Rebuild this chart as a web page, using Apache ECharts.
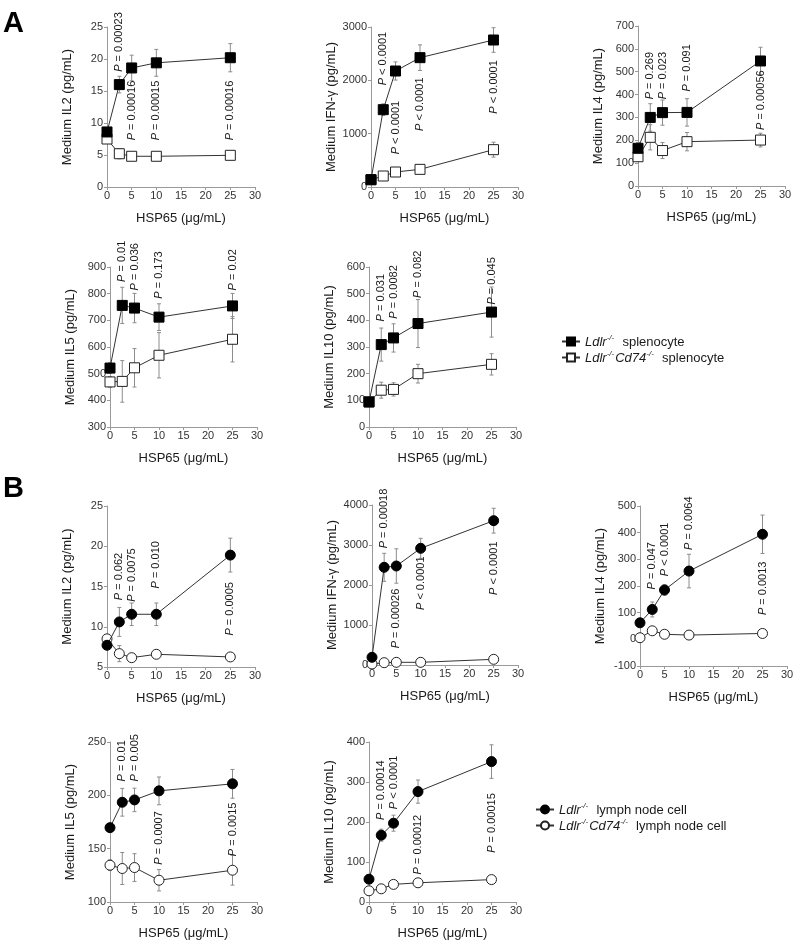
<!DOCTYPE html>
<html><head><meta charset="utf-8">
<script src="https://cdn.jsdelivr.net/npm/echarts@6/dist/echarts.min.js"></script>
<style>html,body{margin:0;padding:0;background:#fff}#c{width:800px;height:946px}</style>
</head><body><div id="c"></div>
<script>
// ---------- DATA ----------
const doses = [0, 2.5, 5, 10, 25];
const pDoses = [2.5, 5, 10, 25];

// Panel A: splenocytes
const aIL2Ldlr = [8.6, 16.0, 18.6, 19.4, 20.2];
const aIL2LdlrErr = [0.6, 1.3, 2.0, 2.1, 2.2];
const aIL2Cd74 = [7.5, 5.2, 4.8, 4.8, 4.95];
const aIL2Cd74Err = [0.5, 0.8, 0.4, 0.3, 0.3];
const aIL2P = ['= 0.00023', '= 0.00016', '= 0.00015', '= 0.00016'];
const aIL2PAt = [18.0, 7.3, 7.3, 7.3];

const aIFNLdlr = [137, 1450, 2175, 2425, 2756];
const aIFNLdlrErr = [40, 110, 170, 240, 230];
const aIFNCd74 = [137, 206, 281, 331, 700];
const aIFNCd74Err = [30, 40, 40, 50, 140];
const aIFNP = ['< 0.0001', '< 0.0001', '< 0.0001', '< 0.0001'];
const aIFNPAt = [1906, 612, 1050, 1375];

const aIL4Ldlr = [165, 300, 321, 322, 547];
const aIL4LdlrErr = [25, 60, 55, 60, 60];
const aIL4Cd74 = [128, 213, 155, 194, 201];
const aIL4Cd74Err = [20, 55, 35, 40, 30];
const aIL4P = ['= 0.269', '= 0.023', '= 0.091', '= 0.00056'];
const aIL4PAt = [379, 379, 413, 245];

const aIL5Ldlr = [521, 756, 746, 712, 754];
const aIL5LdlrErr = [20, 68, 55, 50, 47];
const aIL5Cd74 = [469, 471, 522, 569, 629];
const aIL5Cd74Err = [20, 78, 72, 85, 85];
const aIL5P = ['= 0.01', '= 0.036', '= 0.173', '= 0.02'];
const aIL5PAt = [844, 812, 781, 812];

const aIL10Ldlr = [94, 309, 334, 388, 431];
const aIL10LdlrErr = [10, 62, 53, 90, 94];
const aIL10Cd74 = [94, 138, 141, 200, 235];
const aIL10Cd74Err = [10, 30, 25, 35, 40];
const aIL10P = ['= 0.031', '= 0.0082', '= 0.082', '= 0.045'];
const aIL10PAt = [396, 406, 484, 459];

// Panel B: lymph node cells
const bIL2Ldlr = [7.7, 10.6, 11.55, 11.55, 18.9];
const bIL2LdlrErr = [0.4, 1.8, 1.4, 1.4, 2.1];
const bIL2Cd74 = [8.5, 6.66, 6.16, 6.58, 6.25];
const bIL2Cd74Err = [0.3, 1.0, 0.3, 0.3, 0.3];
const bIL2P = ['= 0.062', '= 0.0075', '= 0.010', '= 0.0005'];
const bIL2PAt = [13.3, 13.1, 14.75, 8.9];

const bIFNLdlr = [192, 2442, 2475, 2917, 3608];
const bIFNLdlrErr = [40, 350, 430, 250, 310];
const bIFNCd74 = [25, 58, 67, 67, 142];
const bIFNCd74Err = [10, 20, 20, 20, 30];
const bIFNP = ['= 0.00018', '= 0.00026', '< 0.0001', '< 0.0001'];
const bIFNPAt = [2917, 417, 1375, 1750];

const bIL4Ldlr = [62, 112, 185, 256, 394];
const bIL4LdlrErr = [10, 28, 20, 63, 72];
const bIL4Cd74 = [6, 32, 19, 16, 22];
const bIL4Cd74Err = [5, 8, 5, 5, 5];
const bIL4P = ['= 0.047', '< 0.0001', '= 0.0064', '= 0.0013'];
const bIL4PAt = [187, 237, 335, 91];

const bIL5Ldlr = [169.7, 193.5, 195.7, 204.2, 210.8];
const bIL5LdlrErr = [3, 13, 11, 13, 13.5];
const bIL5Cd74 = [134.5, 131.4, 132.3, 120.4, 129.8];
const bIL5Cd74Err = [5, 15, 13, 10, 14];
const bIL5P = ['= 0.01', '= 0.005', '= 0.0007', '= 0.0015'];
const bIL5PAt = [213, 213, 135, 143];

const bIL10Ldlr = [57, 167, 197, 276, 351];
const bIL10LdlrErr = [8, 15, 20, 29, 42];
const bIL10Cd74 = [28, 33, 44, 48, 56];
const bIL10Cd74Err = [5, 5, 5, 5, 5];
const bIL10P = ['= 0.00014', '< 0.0001', '= 0.00012', '= 0.00015'];
const bIL10PAt = [205, 232, 69, 123];

const yTitles = ['Medium IL2 (pg/mL)', 'Medium IFN-γ (pg/mL)', 'Medium IL4 (pg/mL)', 'Medium IL5 (pg/mL)', 'Medium IL10 (pg/mL)'];
const xTitle = 'HSP65 (μg/mL)';
const seriesNames = {
  A: ['Ldlr-/- splenocyte', 'Ldlr-/-Cd74-/- splenocyte'],
  B: ['Ldlr-/- lymph node cell', 'Ldlr-/-Cd74-/- lymph node cell']
};

// ---------- LAYOUT ----------
const FONT = '"Liberation Sans", Arial, sans-serif';
const panels = [
  {g:[107,27,148,160], yr:[0,25,5], t:0, set:'A', sym:'rect', f:aIL2Ldlr, fe:aIL2LdlrErr, o:aIL2Cd74, oe:aIL2Cd74Err, p:aIL2P, pa:aIL2PAt},
  {g:[371,27,147,160], yr:[0,3000,1000], t:1, set:'A', sym:'rect', f:aIFNLdlr, fe:aIFNLdlrErr, o:aIFNCd74, oe:aIFNCd74Err, p:aIFNP, pa:aIFNPAt},
  {g:[638,26,147,160], yr:[0,700,100], t:2, set:'A', sym:'rect', f:aIL4Ldlr, fe:aIL4LdlrErr, o:aIL4Cd74, oe:aIL4Cd74Err, p:aIL4P, pa:aIL4PAt},
  {g:[110,267,147,160], yr:[300,900,100], t:3, set:'A', sym:'rect', f:aIL5Ldlr, fe:aIL5LdlrErr, o:aIL5Cd74, oe:aIL5Cd74Err, p:aIL5P, pa:aIL5PAt},
  {g:[369,267,147,160], yr:[0,600,100], t:4, set:'A', sym:'rect', f:aIL10Ldlr, fe:aIL10LdlrErr, o:aIL10Cd74, oe:aIL10Cd74Err, p:aIL10P, pa:aIL10PAt},
  {g:[107,506,148,161], yr:[5,25,5], t:0, set:'B', sym:'circle', f:bIL2Ldlr, fe:bIL2LdlrErr, o:bIL2Cd74, oe:bIL2Cd74Err, p:bIL2P, pa:bIL2PAt},
  {g:[372,505,146,160], yr:[0,4000,1000], t:1, set:'B', sym:'circle', f:bIFNLdlr, fe:bIFNLdlrErr, o:bIFNCd74, oe:bIFNCd74Err, p:bIFNP, pa:bIFNPAt},
  {g:[640,506,147,160], yr:[-100,500,100], t:2, set:'B', sym:'circle', f:bIL4Ldlr, fe:bIL4LdlrErr, o:bIL4Cd74, oe:bIL4Cd74Err, p:bIL4P, pa:bIL4PAt},
  {g:[110,742,147,160], yr:[100,250,50], t:3, set:'B', sym:'circle', f:bIL5Ldlr, fe:bIL5LdlrErr, o:bIL5Cd74, oe:bIL5Cd74Err, p:bIL5P, pa:bIL5PAt},
  {g:[369,742,147,160], yr:[0,400,100], t:4, set:'B', sym:'circle', f:bIL10Ldlr, fe:bIL10LdlrErr, o:bIL10Cd74, oe:bIL10Cd74Err, p:bIL10P, pa:bIL10PAt}
];

const axisColor = '#9a9a9a';
const textColor = '#1a1a1a';
const grids = [], xAxes = [], yAxes = [], series = [];

function errSeries(i, vals, errs) {
  return {
    type: 'custom', xAxisIndex: i, yAxisIndex: i, z: 1, silent: true,
    data: doses.map((d, k) => [d, vals[k] - errs[k], vals[k] + errs[k]]),
    renderItem(params, api) {
      const lo = api.coord([api.value(0), api.value(1)]);
      const hi = api.coord([api.value(0), api.value(2)]);
      const w = 2;
      const st = {stroke: '#8c8c8c', lineWidth: 1};
      return {type: 'group', children: [
        {type: 'line', shape: {x1: lo[0], y1: lo[1], x2: hi[0], y2: hi[1]}, style: st},
        {type: 'line', shape: {x1: lo[0]-w, y1: lo[1], x2: lo[0]+w, y2: lo[1]}, style: st},
        {type: 'line', shape: {x1: hi[0]-w, y1: hi[1], x2: hi[0]+w, y2: hi[1]}, style: st}
      ]};
    }
  };
}

function pSeries(i, texts, anchors) {
  return {
    type: 'custom', xAxisIndex: i, yAxisIndex: i, z: 5, silent: true,
    data: pDoses.map((d, k) => [d, anchors[k], texts[k]]),
    renderItem(params, api) {
      const c = api.coord([api.value(0), api.value(1)]);
      const txt = texts[params.dataIndex];
      return {
        type: 'text', x: c[0], y: c[1], rotation: Math.PI / 2,
        style: {
          text: '{i|P} ' + txt,
          fontFamily: FONT, fontSize: 11, fill: textColor,
          align: 'left', verticalAlign: 'middle',
          rich: {i: {fontStyle: 'italic', fontFamily: FONT, fontSize: 11, fill: textColor}}
        }
      };
    }
  };
}

panels.forEach((p, i) => {
  grids.push({left: p.g[0], top: p.g[1], width: p.g[2], height: p.g[3], containLabel: false});
  xAxes.push({
    type: 'value', gridIndex: i, min: 0, max: 30, interval: 5,
    name: xTitle, nameLocation: 'middle', nameGap: 25,
    nameTextStyle: {fontFamily: FONT, fontSize: 13, color: textColor},
    axisLine: {show: true, onZero: false, lineStyle: {color: axisColor, width: 1}},
    axisTick: {show: true, length: 3, lineStyle: {color: axisColor}},
    axisLabel: {fontFamily: FONT, fontSize: 11, color: '#333', margin: 3},
    splitLine: {show: false}
  });
  yAxes.push({
    type: 'value', gridIndex: i, min: p.yr[0], max: p.yr[1], interval: p.yr[2],
    name: yTitles[p.t], nameLocation: 'middle', nameGap: 33, nameRotate: 90,
    nameTextStyle: {fontFamily: FONT, fontSize: 13, color: textColor},
    axisLine: {show: true, onZero: false, lineStyle: {color: axisColor, width: 1}},
    axisTick: {show: true, length: 3, lineStyle: {color: axisColor}},
    axisLabel: {fontFamily: FONT, fontSize: 11, color: '#333', margin: 4, formatter: v => String(v)},
    splitLine: {show: false}
  });
  const names = seriesNames[p.set];
  series.push(errSeries(i, p.o, p.oe));
  series.push(errSeries(i, p.f, p.fe));
  series.push({
    type: 'line', name: names[1], xAxisIndex: i, yAxisIndex: i, z: 3,
    data: doses.map((d, k) => [d, p.o[k]]),
    symbol: p.sym, symbolSize: 10, showAllSymbol: true,
    itemStyle: {color: '#ffffff', borderColor: '#222', borderWidth: 1},
    lineStyle: {color: '#333', width: 1}
  });
  series.push({
    type: 'line', name: names[0], xAxisIndex: i, yAxisIndex: i, z: 4,
    data: doses.map((d, k) => [d, p.f[k]]),
    symbol: p.sym, symbolSize: 10, showAllSymbol: true,
    itemStyle: {color: '#000000', borderColor: '#000', borderWidth: 1},
    lineStyle: {color: '#333', width: 1}
  });
  series.push(pSeries(i, p.p, p.pa));
});

function legendFormatter(name) {
  const parts = name.split(' ');
  const geno = parts[0];
  const rest = parts.slice(1).join(' ');
  let out = '';
  geno.split('-/-').forEach(seg => { if (seg) out += '{i|' + seg + '}{s|-/-}'; });
  return out + '{n|  ' + rest + '}';
}
const legendRich = {
  i: {fontStyle: 'italic', fontFamily: FONT, fontSize: 13, color: textColor, lineHeight: 15, verticalAlign: 'bottom'},
  s: {fontStyle: 'italic', fontFamily: FONT, fontSize: 8, color: textColor, lineHeight: 15, verticalAlign: 'top', padding: [0, 1, 0, 0]},
  n: {fontFamily: FONT, fontSize: 13, color: textColor, lineHeight: 15, verticalAlign: 'bottom'}
};

const option = {
  animation: false,
  backgroundColor: '#fff',
  grid: grids, xAxis: xAxes, yAxis: yAxes, series: series,
  legend: [
    {data: seriesNames.A, left: 556, top: 329, orient: 'vertical', itemWidth: 18, itemHeight: 10, itemGap: 1,
     formatter: legendFormatter, textStyle: {rich: legendRich}, selectedMode: false},
    {data: seriesNames.B, left: 530, top: 797, orient: 'vertical', itemWidth: 18, itemHeight: 10, itemGap: 1,
     formatter: legendFormatter, textStyle: {rich: legendRich}, selectedMode: false}
  ],
  graphic: [
    {type: 'text', left: 3, top: 9, style: {text: 'A', fontFamily: FONT, fontWeight: 'bold', fontSize: 29, fill: '#000'}},
    {type: 'text', left: 3, top: 474, style: {text: 'B', fontFamily: FONT, fontWeight: 'bold', fontSize: 29, fill: '#000'}}
  ]
};

const chart = echarts.init(document.getElementById('c'), null, {renderer: 'canvas'});
chart.setOption(option);
</script>
</body></html>
